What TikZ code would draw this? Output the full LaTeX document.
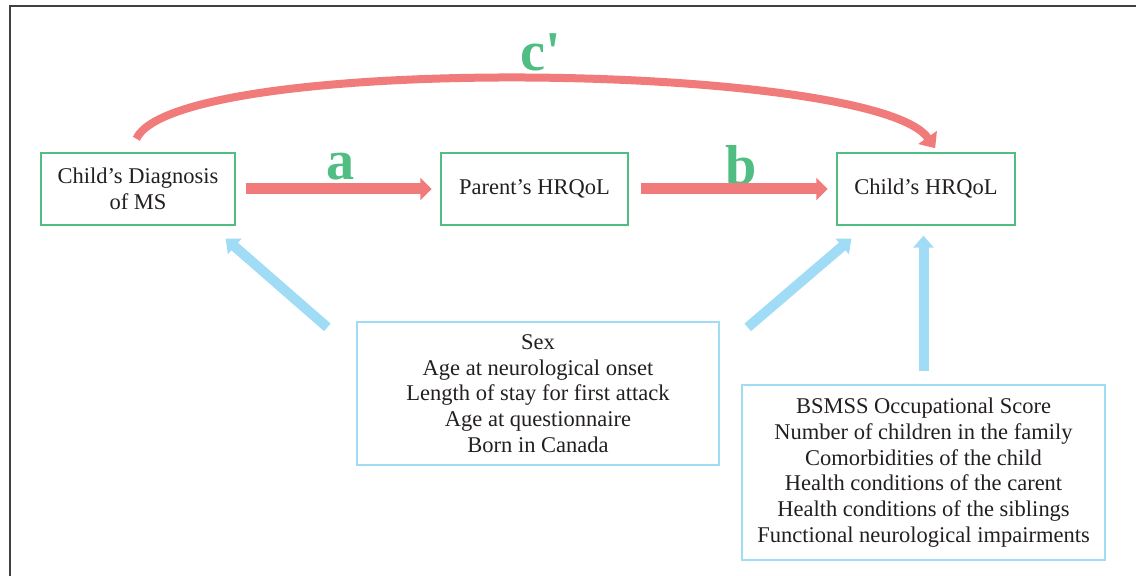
\documentclass[tikz,border=0pt]{standalone}
\usepackage{fontspec}
\setmainfont{Liberation Serif}
\usetikzlibrary{arrows.meta,positioning}
\definecolor{pathred}{RGB}{241,122,122}
\definecolor{boxgreen}{RGB}{80,190,130}
\definecolor{covblue}{RGB}{160,220,245}
\definecolor{textgray}{RGB}{35,31,32}

\begin{document}
\begin{tikzpicture}[x=0.025cm,y=-0.025cm,
  varbox/.style={draw=boxgreen,line width=0.9pt,minimum height=1.8cm,align=center,text=textgray,font=\fontsize{16}{18.3}\selectfont},
  covbox/.style={draw=covblue,line width=0.9pt,align=center,text=textgray,font=\fontsize{16}{18.3}\selectfont},
  patharrow/.style={draw=pathred,line width=0.275cm,-{Triangle[width=0.55cm,length=0.28cm]}},
  cprime/.style={draw=pathred,line width=0.2cm,-{Triangle[width=0.55cm,length=0.33cm]}},
  covarrow/.style={draw=covblue,line width=0.25cm,-{Triangle[width=0.5cm,length=0.3cm]}},
  pathlabel/.style={text=boxgreen,font=\fontsize{40}{44}\selectfont\bfseries}]
\useasboundingbox (0,0) rectangle (1136,576);
\draw[line width=0.05cm,draw=black!75] (10,576) -- (10,6) -- (1136,6);

\node[varbox,minimum width=4.85cm] (diag) at (138,189) {Child's Diagnosis\\of MS};
\node[varbox,minimum width=4.675cm] (parent) at (534.5,189) {Parent's HRQoL};
\node[varbox,minimum width=4.45cm] (child) at (926,189) {Child's HRQoL};
\node[covbox,minimum width=9.05cm,minimum height=3.575cm] (cov1) at (538,393.5) {Sex\\Age at neurological onset\\Length of stay for first attack\\Age at questionnaire\\Born in Canada};
\node[covbox,minimum width=9.075cm,minimum height=4.375cm] (cov2) at (923.5,472.5) {BSMSS Occupational Score\\Number of children in the family\\Comorbidities of the child\\Health conditions of the carent\\Health conditions of the siblings\\Functional neurological impairments};

\node[pathlabel] (alabel) at (341,167) {a};
\node[pathlabel] (blabel) at (741,165) {b};
\node[pathlabel] (clabel) at (541,52) {c\textquotesingle};

\draw[patharrow,shorten <=0.25cm,shorten >=0.22cm] (diag) -- (parent);
\draw[patharrow,shorten <=0.3cm,shorten >=0.22cm] (parent) -- (child);
\draw[cprime,shorten <=0.375cm,shorten >=0.125cm] ([xshift=-0.2cm]diag.north) to[out=65,in=125,looseness=0.35] ([xshift=0.3cm]child.north);

\draw[covarrow] ([xshift=-0.725cm,yshift=-0.15cm]cov1.north west) -- ([xshift=-0.25cm,yshift=-0.325cm]diag.south east);
\draw[covarrow] ([xshift=0.7cm,yshift=-0.15cm]cov1.north east) -- ([xshift=0.375cm,yshift=-0.325cm]child.south west);
\draw[covarrow,shorten <=0.325cm,shorten >=0.25cm] (cov2.north) -- (cov2.north |- child.south);
\end{tikzpicture}
\end{document}
